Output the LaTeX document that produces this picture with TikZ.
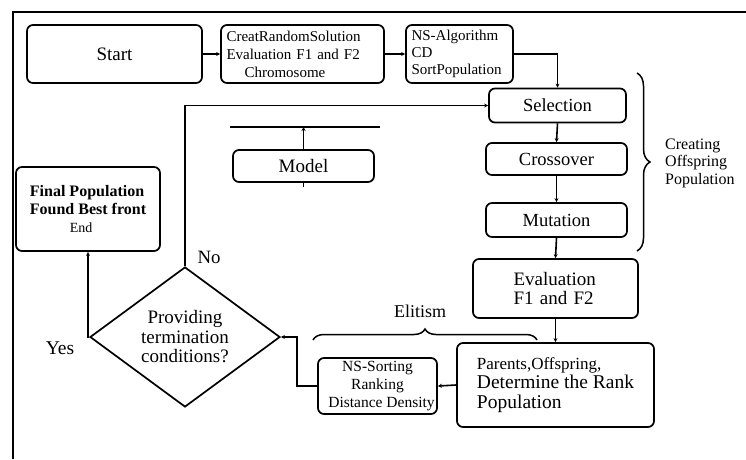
\documentclass[tikz,border=0pt]{standalone}
\usepackage{fontspec}
\setmainfont{Liberation Serif}
\usetikzlibrary{shapes.geometric,arrows.meta,decorations.pathreplacing}
\begin{document}
\begin{tikzpicture}[x=1pt,y=-1pt,
  box/.style={draw,line width=1.7pt,rounded corners=6pt,inner sep=0pt,align=center},
  conn/.style={line width=1.6pt,-{Stealth[length=4pt,width=4pt]}},
  plain/.style={line width=1.6pt},
  lbl/.style={inner sep=0pt,align=left}]
\useasboundingbox (0,0) rectangle (746,459);
\draw[line width=1.1pt] (13,459) -- (13,12) -- (746,12);

\node[box,minimum width=175pt,minimum height=58pt,font=\fontsize{19}{22}\selectfont] (start) at (114.5,54) {Start};
\node[box,minimum width=163pt,minimum height=58pt,align=left,text width=152pt,font=\fontsize{15}{18}\selectfont] (init) at (302.5,54) {CreatRandomSolution\\Evaluation F1 and F2\\\hspace*{18pt}Chromosome};
\node[box,minimum width=107pt,minimum height=58pt,align=left,text width=96pt,font=\fontsize{15}{17}\selectfont] (nsa) at (459.5,54) {NS-Algorithm\\CD\\SortPopulation};

\node[box,minimum width=137pt,minimum height=34pt,font=\fontsize{18.5}{22}\selectfont] (sel) at (557.5,105.5) {Selection};
\node[box,minimum width=141pt,minimum height=32pt,font=\fontsize{18.5}{22}\selectfont] (cro) at (556.5,159) {Crossover};
\node[box,minimum width=141pt,minimum height=34pt,font=\fontsize{18.5}{22}\selectfont] (mut) at (556.5,220) {Mutation};
\node[box,minimum width=165pt,minimum height=59pt,align=left,text width=84pt,font=\fontsize{19}{19.5}\selectfont] (eva) at (555.5,288.5) {Evaluation\\F1 and F2};
\node[box,minimum width=197pt,minimum height=84pt,align=left,font=\fontsize{19.5}{19.5}\selectfont] (par) at (555.5,385) {{\fontsize{17}{19.5}\selectfont Parents,Offspring,}\\Determine the Rank\\Population};
\node[box,minimum width=119pt,minimum height=56pt,font=\fontsize{15.5}{18}\selectfont] (nss) at (377.5,386) {NS-Sorting\\Ranking\\\hspace*{8pt}Distance Density};

\node[draw,shape=diamond,line width=1.7pt,aspect=1.36,inner sep=0pt,minimum width=190pt,minimum height=140pt,align=center,font=\fontsize{19}{19.5}\selectfont] (dia) at (185,337) {Providing\\termination\\conditions?};

\node[box,minimum width=144pt,minimum height=84pt,align=left,font=\bfseries\fontsize{16}{18}\selectfont] (fin) at (88,209) {Final Population\\Found Best front\\\hspace*{40pt}{\mdseries\fontsize{14}{18}\selectfont End}};

\node[box,minimum width=141pt,minimum height=32pt,font=\fontsize{19}{22}\selectfont] (mod) at (303.5,166) {Model};
\coordinate (mlL) at (230,127);
\coordinate (mlR) at (380,127);
\draw[plain] (mlL) -- (mlR);
\draw[conn] (mod.north) -- (mod.north |- mlL);
\coordinate (mstub) at (305,187);
\draw[plain] (mod.south) -- (mod.south |- mstub);

\draw[conn] (start.east) -- (init.west);
\draw[conn] (init.east) -- (nsa.west);
\draw[conn] (nsa.east) -| (sel.north);
\draw[conn] (sel.south) -- (cro.north);
\draw[conn] (cro.south) -- (mut.north);
\draw[conn] (mut.south) -- (eva.north);
\draw[conn] (eva.south) -- (par.north);
\draw[conn] (par.west) -- (nss.east);
\draw[conn] (nss.west) -- ++(-20,0) |- (dia.east);
\draw[conn] (dia.north) |- (sel.west);
\draw[conn] (dia.west) -| (fin.south);

\node[lbl,font=\fontsize{18.8}{20}\selectfont] (no) at (209,257) {No};
\node[lbl,font=\fontsize{19.5}{20}\selectfont] (yes) at (60,348) {Yes};

\coordinate (bT) at (637,73);
\coordinate (bB) at (637,251);
\draw[line width=1.5pt,decorate,decoration={brace,amplitude=13pt}] (bT) -- (bB);
\node[lbl,anchor=west,font=\fontsize{16}{17.5}\selectfont] (cop) at (665,163) {Creating\\Offspring\\Population};

\coordinate (eL) at (313,340);
\coordinate (eR) at (537,340);
\draw[line width=1.5pt,decorate,decoration={brace,amplitude=11pt}] (eL) -- (eR);
\node[lbl,font=\fontsize{18}{20}\selectfont] (eli) at (420,311) {Elitism};
\end{tikzpicture}
\end{document}
